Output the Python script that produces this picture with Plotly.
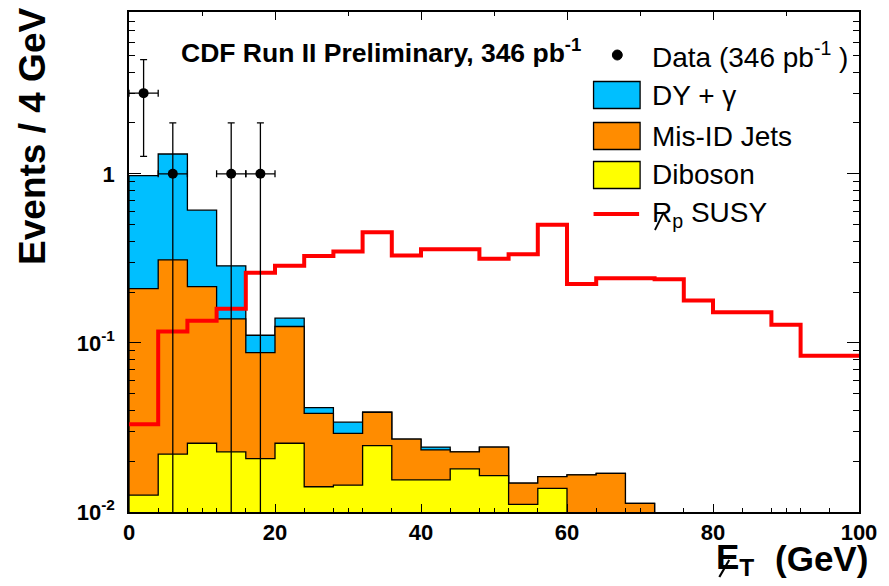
import numpy as np
import plotly.graph_objects as go

# ---------------- data ----------------
bin_edges = list(range(0, 104, 4))          # 0 .. 100 GeV, 4 GeV bins
diboson = [0.0126, 0.022, 0.0255, 0.0227, 0.0207, 0.0255, 0.0141, 0.0144, 0.0247,
           0.0155, 0.0155, 0.018, 0.0164, 0.0111, 0.0138, 0, 0, 0, 0, 0, 0, 0, 0, 0, 0]
misid_jets = [0.197, 0.288, 0.190, 0.116, 0.067, 0.0995, 0.0242, 0.0148, 0.0142,
              0.0115, 0.0078, 0.0047, 0.0078, 0.0037, 0.0024, 0.0166, 0.0169, 0.01125,
              0, 0, 0, 0, 0, 0, 0]
dy_gamma = [0.767, 1.00, 0.394, 0.147, 0.0233, 0.015, 0.0031, 0.0048, 0, 0, 0.0009,
            0, 0, 0, 0, 0, 0, 0, 0, 0, 0, 0, 0, 0, 0]
rpv_susy = [0.033, 0.117, 0.135, 0.159, 0.26, 0.286, 0.327, 0.347, 0.452, 0.329,
            0.358, 0.358, 0.315, 0.335, 0.499, 0.223, 0.241, 0.241, 0.238, 0.178,
            0.152, 0.152, 0.128, 0.084, 0.084]
data_x = [2, 6, 14, 18]
data_y = [3, 1, 1, 1]
data_xerr = [2, 2, 2, 2]

x_tick_vals = [0, 20, 40, 60, 80, 100]
x_tick_text = ["0", "20", "40", "60", "80", "100"]
y_tick_vals = [0.01, 0.1, 1]
y_tick_text = ["10<sup>-2</sup>", "10<sup>-1</sup>", "1"]

# ---------------- styling ----------------
FONT = "Liberation Sans, Arial, Helvetica, sans-serif"
C_DY = "rgb(0,191,255)"
C_JET = "rgb(255,140,0)"
C_DIB = "rgb(255,255,0)"
C_SUSY = "rgb(255,0,0)"
BASE = 1e-3   # below visible range: bottom of the filled histogram polygons

W, H = 889, 586
L, R, T, B = 129, 866, 12, 512   # plot area in pixels


def px(x):
    return (x - L) / (R - L)


def py(y):
    return (B - y) / (B - T)


def step_polygon(vals):
    k = max(i for i, v in enumerate(vals) if v > 0)
    xs, ys = [bin_edges[0]], [BASE]
    for i in range(k + 1):
        xs += [bin_edges[i], bin_edges[i + 1]]
        ys += [vals[i], vals[i]]
    xs.append(bin_edges[k + 1])
    ys.append(BASE)
    return xs, ys


yellow = np.array(diboson)
orange = yellow + np.array(misid_jets)
blue = orange + np.array(dy_gamma)

fig = go.Figure()
for vals, col, name in [(blue, C_DY, "DY + γ"), (orange, C_JET, "Mis-ID Jets"),
                        (yellow, C_DIB, "Diboson")]:
    xs, ys = step_polygon(list(vals))
    fig.add_trace(go.Scatter(x=xs, y=ys, mode="lines", fill="toself", fillcolor=col,
                             line=dict(color="black", width=1.3), name=name,
                             showlegend=False, hoverinfo="skip"))

fig.add_trace(go.Scatter(x=bin_edges, y=rpv_susy + [rpv_susy[-1]], mode="lines",
                         line=dict(color=C_SUSY, width=4, shape="hv"),
                         name="SUSY", showlegend=False))

yerr = list(np.sqrt(data_y))
fig.add_trace(go.Scatter(
    x=data_x, y=data_y, mode="markers", name="Data",
    marker=dict(color="black", size=10),
    error_y=dict(type="data", array=yerr, arrayminus=yerr, color="black",
                 thickness=1.3, width=3.5),
    error_x=dict(type="data", array=data_xerr, color="black", thickness=1.3, width=3.5),
    showlegend=False))

# invisible trace so that the top axis is drawn
fig.add_trace(go.Scatter(x=[50], y=[1], xaxis="x2", mode="markers",
                         marker=dict(opacity=0), showlegend=False, hoverinfo="skip"))

x_minor = sorted(set(list(range(0, 101, 4)) + list(range(10, 100, 20))))
y_minor = [m * 10.0 ** e for e in (-2, -1, 0) for m in range(2, 10)]

fig.update_layout(
    width=W, height=H,
    margin=dict(l=L, r=W - R, t=T, b=H - B),
    paper_bgcolor="white", plot_bgcolor="white",
    font=dict(family=FONT, color="black"),
    xaxis=dict(range=[0, 100], showgrid=False, zeroline=False,
               showline=True, linecolor="black", linewidth=1.5, mirror=False,
               ticks="inside", ticklen=8, tickwidth=1.2, tickcolor="black",
               tickmode="array", tickvals=x_tick_vals,
               ticktext=["<b>%s</b>" % t for t in x_tick_text],
               tickfont=dict(size=22, family=FONT), ticklabelstandoff=0,
               minor=dict(tickmode="array", tickvals=x_minor, ticks="inside",
                          ticklen=4, tickwidth=1.2, tickcolor="black", showgrid=False)),
    xaxis2=dict(range=[0, 100], overlaying="x", side="top", anchor="y",
                showgrid=False, zeroline=False, showline=True, linecolor="black",
                linewidth=1.5, ticks="inside", ticklen=8, tickwidth=1.2,
                tickcolor="black", tickmode="array", tickvals=x_tick_vals,
                showticklabels=False,
                minor=dict(tickmode="array", tickvals=[10, 30, 50, 70, 90],
                           ticks="inside", ticklen=4, tickwidth=1.2,
                           tickcolor="black", showgrid=False)),
    yaxis=dict(type="log", range=[-2, 0.957], showgrid=False, zeroline=False,
               showline=True, linecolor="black", linewidth=1.5, mirror="ticks",
               ticks="inside", ticklen=12, tickwidth=1.2, tickcolor="black",
               tickmode="array", tickvals=y_tick_vals,
               ticktext=["<b>%s</b>" % t for t in y_tick_text],
               tickfont=dict(size=22, family=FONT), ticklabelstandoff=8,
               minor=dict(tickmode="array", tickvals=y_minor, ticks="inside",
                          ticklen=6, tickwidth=1.2, tickcolor="black", showgrid=False)),
    showlegend=False,
)

ann = []
# axis titles
ann.append(dict(text="<b>Events / 4 GeV</b>", textangle=-90, x=px(31), y=py(136),
                xref="paper", yref="paper", xanchor="center", yanchor="middle",
                showarrow=False, font=dict(size=37, family=FONT)))
ann.append(dict(text="<b>E<sub>T</sub></b>", x=px(720), y=py(535),
                xref="paper", yref="paper", xanchor="left", yanchor="top",
                showarrow=False, font=dict(size=35, family=FONT)))
ann.append(dict(text="<b>(GeV)</b>", x=px(779), y=py(537),
                xref="paper", yref="paper", xanchor="left", yanchor="top",
                showarrow=False, font=dict(size=35, family=FONT)))
ann.append(dict(text="<b>CDF Run II Preliminary, 346 pb<sup>-1</sup></b>", x=px(179),
                y=py(51), xref="paper", yref="paper", xanchor="left", yanchor="middle",
                showarrow=False, font=dict(size=26.5, family=FONT)))

# legend (drawn by hand)
leg_text_x = px(655)
rows = [("Data (346 pb<sup>-1</sup> )", 55), ("DY + γ", 95), ("Mis-ID Jets", 136),
        ("Diboson", 175), ("R<sub>p</sub> SUSY", 214)]
for txt, yy in rows:
    ann.append(dict(text=txt, x=leg_text_x, y=py(yy), xref="paper", yref="paper",
                    xanchor="left", yanchor="middle", showarrow=False,
                    font=dict(size=28, family=FONT)))
fig.update_layout(annotations=ann)

shapes = [dict(type="circle", xref="paper", yref="paper", x0=px(617), x1=px(627),
               y0=py(60), y1=py(50), fillcolor="black", line=dict(color="black", width=1))]
for col, yy in [(C_DY, 95), (C_JET, 136), (C_DIB, 175)]:
    shapes.append(dict(type="rect", xref="paper", yref="paper", x0=px(598), x1=px(645),
                       y0=py(yy + 13.5), y1=py(yy - 13.5), fillcolor=col,
                       line=dict(color="black", width=1.3)))
shapes.append(dict(type="line", xref="paper", yref="paper", x0=px(598), x1=px(644),
                   y0=py(214), y1=py(214), line=dict(color=C_SUSY, width=4)))
# slashes over E (x title) and R (legend)
shapes.append(dict(type="line", xref="paper", yref="paper", x0=px(725), x1=px(735),
                   y0=py(577), y1=py(560), line=dict(color="black", width=2.2)))
shapes.append(dict(type="line", xref="paper", yref="paper", x0=px(660), x1=px(669),
                   y0=py(230), y1=py(212), line=dict(color="black", width=1.8)))
fig.update_layout(shapes=shapes)

fig.write_html("out.html")
